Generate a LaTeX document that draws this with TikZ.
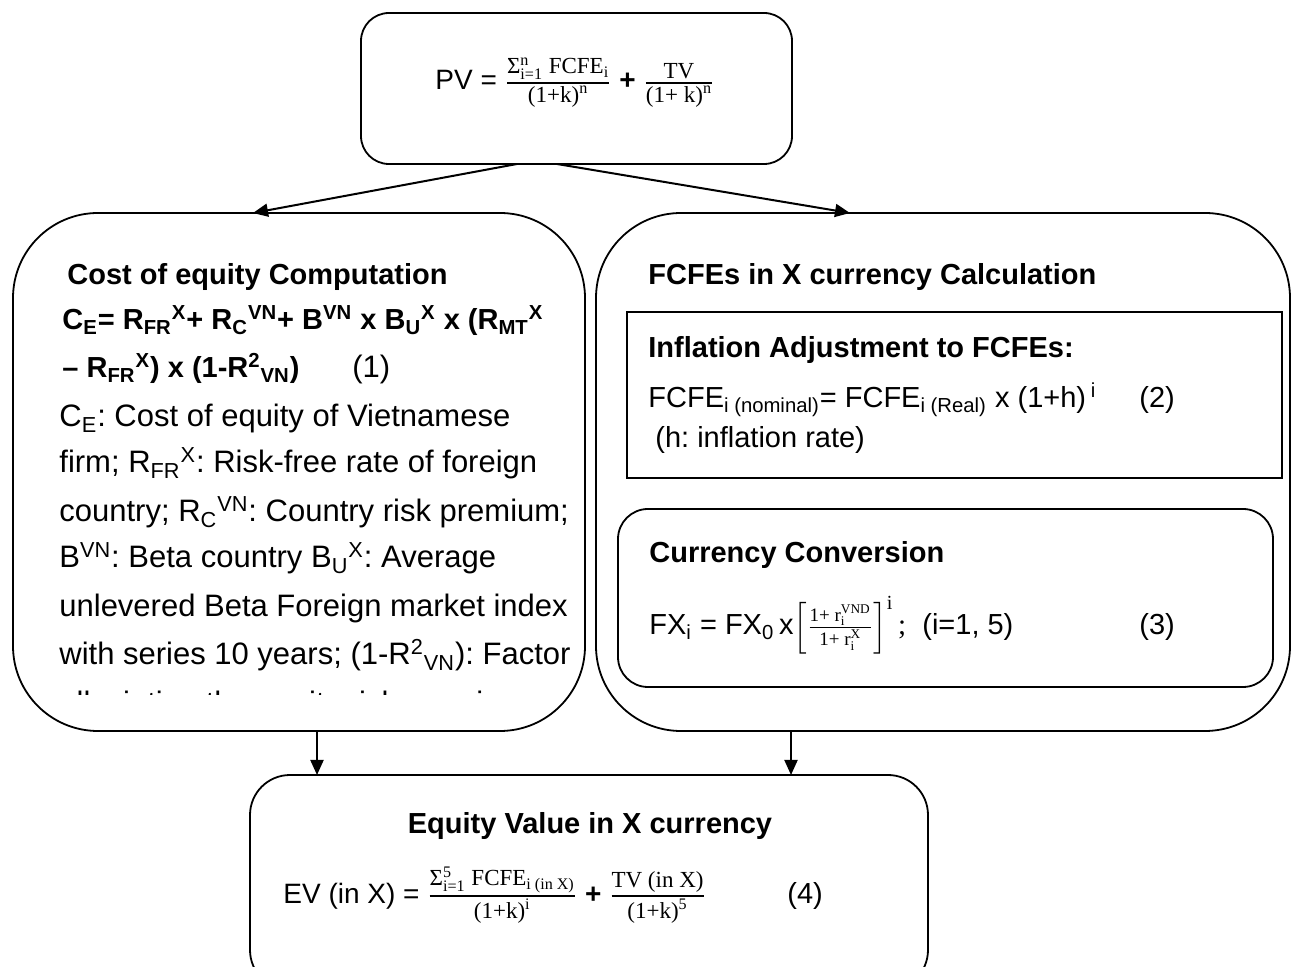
\documentclass[tikz,border=0pt]{standalone}
\usepackage{amsmath}
\usepackage{fontspec}
\setmainfont{Liberation Sans}
\newfontfamily\tnr{Liberation Serif}
\usetikzlibrary{arrows.meta}
\frenchspacing

\newcommand\reg{\fontsize{15.5}{18}\selectfont}
\newcommand\regs{\fontsize{14.5}{17}\selectfont}
\newcommand\hdr{\fontsize{14.5}{17}\selectfont\bfseries}
\newcommand\lo[1]{\ensuremath{_{\text{#1}}}}
\newcommand\hi[1]{\ensuremath{^{\text{#1}}}}
\newcommand\lohi[2]{\ensuremath{_{\text{#1}}^{\text{#2}}}}
% serif fraction with a heavy bar: size, numerator, denominator
\newcommand\fr[3]{\ensuremath{\genfrac{}{}{1pt}{}{\hbox{\fontsize{#1}{#1}\tnr #2}}{\hbox{\fontsize{#1}{#1}\tnr #3}}}}

\begin{document}
\begin{tikzpicture}[x=0.5pt,y=-0.5pt,
  box/.style={draw, line width=0.9pt, inner sep=0pt, outer sep=0pt},
  arr/.style={-{Triangle[width=6.5pt,length=7.5pt]}, line width=1pt},
  txt/.style={anchor=base west, inner sep=0pt, font=\reg},
  hd/.style={anchor=base west, inner sep=0pt, font=\hdr}]
\useasboundingbox (0,0) rectangle (1291,967);

% boxes
\node[box, rounded corners=14pt, minimum width=215.5pt, minimum height=75.5pt] (pv) at (576.5,88.5) {};
\node[box, rounded corners=42.5pt, minimum width=286pt, minimum height=259pt] (coe) at (299,472) {};
\node[box, rounded corners=42.5pt, minimum width=347pt, minimum height=259pt] (fcfe) at (943,472) {};
\node[box, minimum width=327.5pt, minimum height=83pt] (infl) at (954.5,395) {};
\node[box, rounded corners=15pt, minimum width=327.5pt, minimum height=89pt] (conv) at (945.5,598) {};
\node[box, rounded corners=20pt, minimum width=339pt, minimum height=107.5pt] (ev) at (589,882.5) {};

% connectors
\draw[arr] ([xshift=-29.75pt]pv.south) -- ([xshift=-23pt]coe.north);
\draw[arr] ([xshift=-9.75pt]pv.south) -- ([xshift=-46.5pt]fcfe.north);
\draw[arr] ([xshift=9pt]coe.south) -- ([xshift=9pt]coe.south |- ev.north);
\draw[arr] ([xshift=-76pt]fcfe.south) -- ([xshift=-76pt]fcfe.south |- ev.north);

% present value
\node[txt, font=\fontsize{14}{16}\selectfont] (pvf) at (435,90)
  {PV = \fr{11.5}{Σ\lohi{i=1}{n} FCFE\lo{i}}{(1+k)\hi{n}} \textbf{+} \fr{11.5}{TV}{(1+ k)\hi{n}}};

% cost of equity, cut off at the box bottom
\begin{scope}
\clip (13,213) rectangle (585,695);
\node[hd] (coeh) at (67,285) {Cost of equity Computation};
\node[hd] (ce1) at (62,330) {C\lo{E}= R\lo{FR}\hi{X}+ R\lo{C}\hi{VN}+ B\hi{VN} x B\lo{U}\hi{X} x (R\lo{MT}\hi{X}};
\node[hd] (ce2) at (62,378) {– R\lo{FR}\hi{X}) x (1-R\hi{2}\lo{VN})};
\node[txt] (ce2n) at (352,378) {(1)};
\node[txt] (c1) at (59,427) {C\lo{E}: Cost of equity of Vietnamese};
\node[txt] (c2) at (59,473) {firm; R\lo{FR}\hi{X}: Risk-free rate of foreign};
\node[txt] (c3) at (59,522) {country; R\lo{C}\hi{VN}: Country risk premium;};
\node[txt] (c4) at (59,568) {B\hi{VN}: Beta country B\lo{U}\hi{X}: Average};
\node[txt] (c5) at (59,617) {unlevered Beta Foreign market index};
\node[txt] (c6) at (59,665) {with series 10 years; (1-R\hi{2}\lo{VN}): Factor};
\node[txt] (c7) at (59,714) {alleviating the equity risk premium};
\end{scope}

% FCFEs in X currency
\node[hd] (fh) at (648,285) {FCFEs in X currency Calculation};
\node[hd] (ih) at (648,358) {Inflation Adjustment to FCFEs:};
\node[txt, font=\regs] (i1) at (648,408) {FCFE\lo{i (nominal)}= FCFE\lo{i (Real)} x (1+h)\,\hi{i}};
\node[txt, font=\regs] (i1n) at (1139,408) {(2)};
\node[txt, font=\regs] (i2) at (655,448) {(h: inflation rate)};
\node[hd] (ch) at (649,563) {Currency Conversion};
\node[txt, font=\regs] (fx) at (649,635)
  {FX\lo{i} = FX\lo{0}\,x$\delimiterfactor=1000 \delimitershortfall=0pt
   \left[\vrule height 15.4pt depth 8.2pt width 0pt\genfrac{}{}{0.6pt}{}{\hbox{\fontsize{9.5}{9.5}\tnr 1+ r\lohi{i}{VND}}}{\hbox{\fontsize{9.5}{9.5}\tnr 1+ r\lohi{i}{X}}}\right]^{\hbox{\fontsize{10}{10}\tnr i}}$\,{\tnr ;}\ \ (i=1, 5)};
\node[txt, font=\regs] (fxn) at (1139,635) {(3)};

% equity value
\node[hd, anchor=base] (evh) at (590,833) {Equity Value in X currency};
\node[txt, font=\fontsize{14}{16}\selectfont] (evf) at (283,903)
  {EV (in X) = \fr{11.5}{Σ\lohi{i=1}{5} FCFE\lo{i (in X)}}{(1+k)\hi{i}} \textbf{+} \fr{11.5}{TV (in X)}{(1+k)\hi{5}}};
\node[txt, font=\regs] (evn) at (787,903) {(4)};
\end{tikzpicture}
\end{document}
